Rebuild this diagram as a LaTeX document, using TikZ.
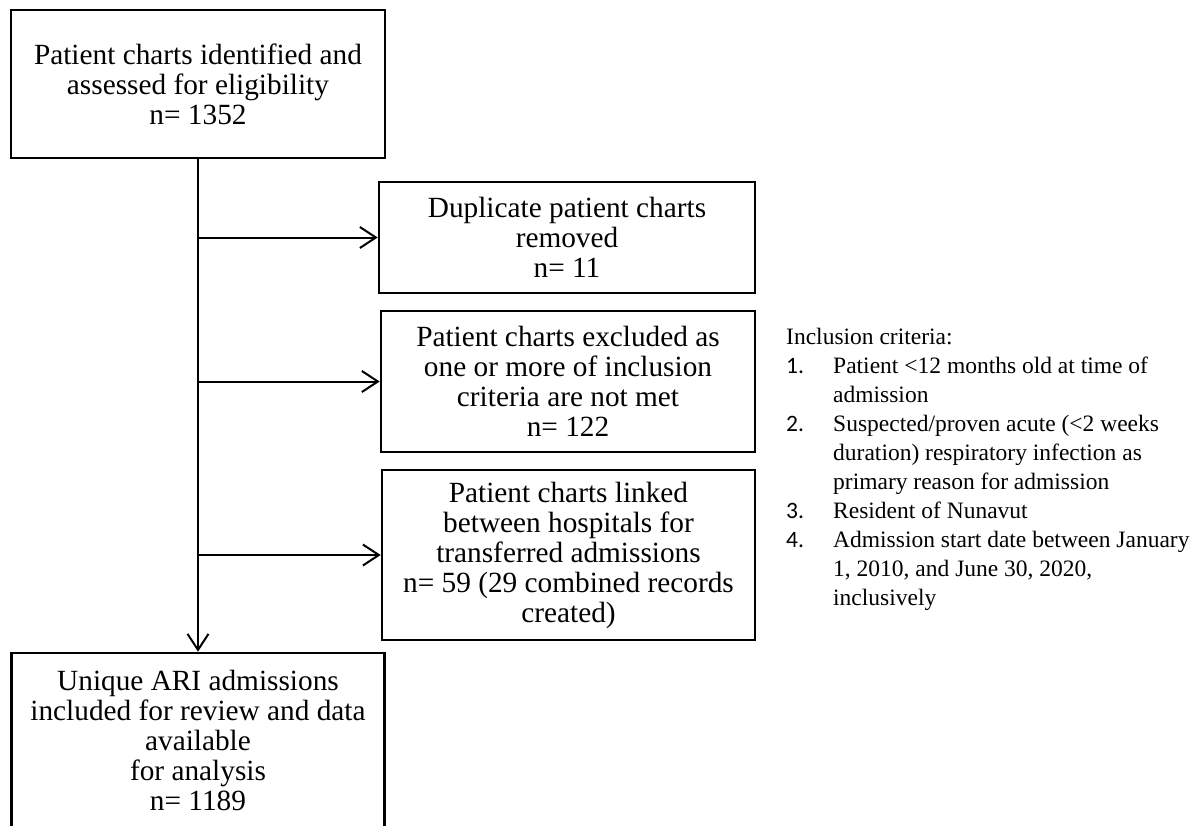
\documentclass[tikz,border=0pt]{standalone}
\usepackage{fontspec}
\setmainfont{Liberation Serif}
\newfontfamily\numfont{Carlito}
\usetikzlibrary{arrows.meta}
\begin{document}
\begin{tikzpicture}[x=1pt,y=-1pt,
  box/.style={draw, line width=2.6pt, align=center, inner sep=0pt,
    font=\fontsize{29.3}{30}\selectfont},
  conn/.style={line width=2pt, -{Straight Barb[length=16pt,width=21pt,line width=2pt]}},
  listtext/.style={inner sep=0pt, font=\fontsize{23.5}{29}\selectfont}]
\useasboundingbox (0,0) rectangle (1198,825);

\node[box, minimum width=374pt, minimum height=148pt] (b1) at (198,84)
  {Patient charts identified and\\assessed for eligibility\\n= 1352};
\node[box, minimum width=376pt, minimum height=111pt] (b2) at (567,237.5)
  {Duplicate patient charts\\removed\\n= 11};
\node[box, minimum width=374pt, minimum height=141pt] (b3) at (568,381.5)
  {Patient charts excluded as\\one or more of inclusion\\criteria are not met\\n= 122};
\node[box, minimum width=373pt, minimum height=170pt] (b4) at (568.5,555)
  {Patient charts linked\\between hospitals for\\transferred admissions\\n= 59 (29 combined records\\created)};
\node[box, minimum width=373pt, minimum height=174pt] (b5) at (198,740)
  {Unique ARI admissions\\included for review and data\\available\\for analysis\\n= 1189};

\coordinate (j2) at (b1.south |- b2.west);
\coordinate (j3) at (b1.south |- b3.west);
\coordinate (j4) at (b1.south |- b4.west);
\draw[conn] (b1.south) -- (b5.north);
\draw[conn] (j2) -- (b2.west);
\draw[conn] (j3) -- (b3.west);
\draw[conn] (j4) -- (b4.west);

\node[listtext, anchor=base west] (crit) at (786,344) {%
\begin{tabular}[t]{@{}p{47pt}@{}l@{}}
\multicolumn{2}{@{}l@{}}{Inclusion criteria:}\\
{\numfont 1.} & Patient <12 months old at time of\\
 & admission\\
{\numfont 2.} & Suspected/proven acute (<2 weeks\\
 & duration) respiratory infection as\\
 & primary reason for admission\\
{\numfont 3.} & Resident of Nunavut\\
{\numfont 4.} & Admission start date between January\\
 & 1, 2010, and June 30, 2020,\\
 & inclusively
\end{tabular}};
\end{tikzpicture}
\end{document}
